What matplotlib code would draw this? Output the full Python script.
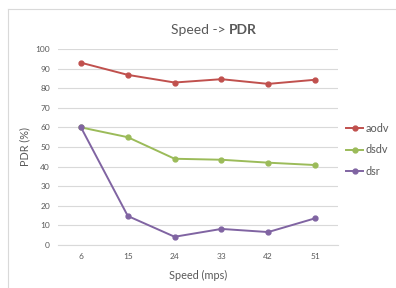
import matplotlib
matplotlib.use("Agg")
import matplotlib.pyplot as plt
from matplotlib.lines import Line2D

# data
speeds = ["6", "15", "24", "33", "42", "51"]
aodv = [93, 86.8, 82.9, 84.6, 82.2, 84.3]
dsdv = [60, 55, 44, 43.5, 42, 40.8]
dsr = [60, 14.8, 4.2, 8.2, 6.6, 13.6]
yticks = list(range(0, 101, 10))

plt.rcParams['font.family'] = ['Lato', 'DejaVu Sans']
text_col = '#595959'

fig = plt.figure(figsize=(3.96, 2.88), dpi=100)
fig.patch.set_facecolor('white')

# chart frame (left and top edges visible)
fig.add_artist(Line2D([8 / 396, 8 / 396], [0, 1 - 9 / 288], color='#D9D9D9', lw=0.8))
fig.add_artist(Line2D([8 / 396, 1], [1 - 9 / 288, 1 - 9 / 288], color='#D9D9D9', lw=0.8))

ax = fig.add_axes([57.6 / 396, 1 - 245 / 288, 280.8 / 396, 196 / 288])
x = range(len(speeds))
ax.plot(x, aodv, color='#C0504D', marker='o', ms=3.5, lw=1.4, label='aodv')
ax.plot(x, dsdv, color='#9BBB59', marker='o', ms=3.5, lw=1.4, label='dsdv')
ax.plot(x, dsr, color='#8064A2', marker='o', ms=3.5, lw=1.4, label='dsr')

ax.set_xlim(-0.5, len(speeds) - 0.5)
ax.set_ylim(0, 100)
ax.set_yticks(yticks)
ax.set_xticks(list(x))
ax.set_xticklabels(speeds)
ax.yaxis.grid(True, color='#D9D9D9', lw=0.8)
ax.set_axisbelow(True)
for s in ['top', 'right', 'left']:
    ax.spines[s].set_visible(False)
ax.spines['bottom'].set_color('#D9D9D9')
ax.spines['bottom'].set_linewidth(0.8)
ax.tick_params(length=0, labelsize=6, colors=text_col)
ax.tick_params(axis='x', pad=6)
ax.tick_params(axis='y', pad=5.5)

ax.set_xlabel('Speed (mps)', fontsize=7.8, color=text_col)
ax.set_ylabel('PDR (%)', fontsize=7.8, color=text_col)
ax.xaxis.set_label_coords(0.5, -0.128)
ax.yaxis.set_label_coords(-0.098, 0.5)

fig.text(229 / 396, 1 - 30 / 288, 'Speed -> ', fontsize=10, color=text_col, ha='right', va='center')
fig.text(229 / 396, 1 - 30 / 288, 'PDR', fontsize=10, color=text_col, ha='left', va='center', fontweight='bold')

ax.legend(loc='center left', bbox_to_anchor=(1.0, 0.485), frameon=False, fontsize=7.8,
          labelcolor=text_col, handlelength=1.6, handletextpad=0.2, labelspacing=1.0,
          borderaxespad=0.3)

fig.savefig('out.png', dpi=100)
